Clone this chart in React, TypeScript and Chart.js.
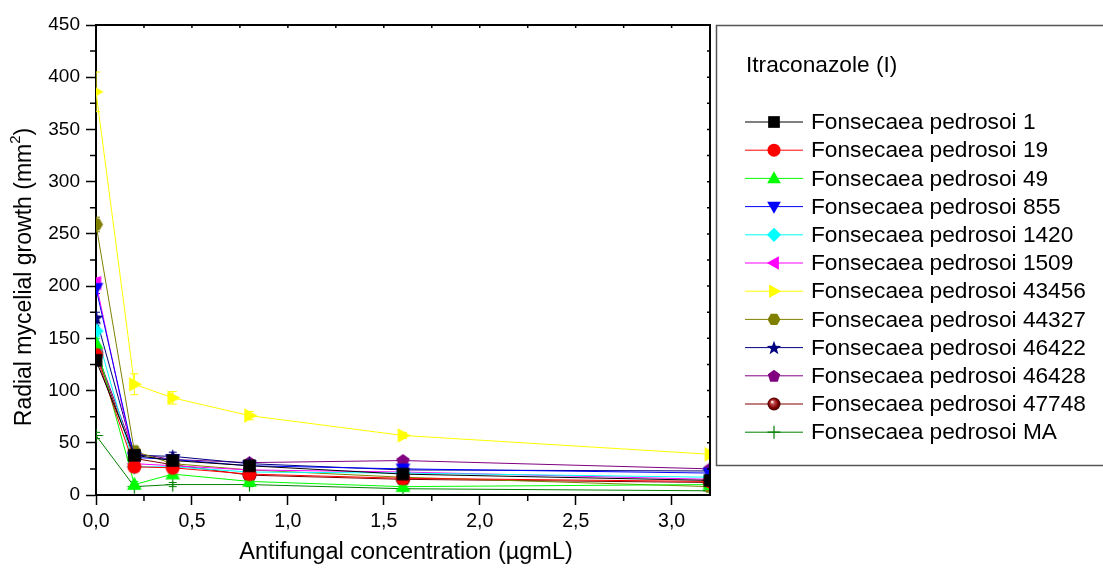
import { useEffect, useRef } from 'react';
import { Chart, registerables } from 'chart.js';

Chart.register(...registerables);

// Antifungal concentrations (µg/mL)
const concentrations = [0, 0.2, 0.4, 0.8, 1.6, 3.2];

// Radial mycelial growth (mm²) per strain
const growthFp1 = [129, 38, 33, 28, 20, 14];
const growthFp19 = [134, 27, 26, 20, 16, 13];
const growthFp49 = [145, 10, 20, 13, 8, 10];
const growthFp855 = [198, 36, 34, 28, 25, 21];
const growthFp1420 = [157, 27, 27, 22, 21, 17];
const growthFp1509 = [203, 30, 28, 24, 22, 15];
const growthFp43456 = [386, 106, 93, 76, 57, 39];
const growthFp44327 = [259, 42, 30, 24, 17, 8];
const growthFp46422 = [170, 38, 37, 30, 24, 23];
const growthFp46428 = [138, 40, 34, 31, 33, 25];
const growthFp47748 = [136, 35, 29, 19, 15, 12];
const growthFpMA = [57, 8, 10, 10, 6, 4];

// Standard deviations
const errFp1 = [4, 3, 3, 2, 2, 2];
const errFp19 = [4, 3, 2, 2, 2, 2];
const errFp49 = [5, 3, 3, 2, 2, 2];
const errFp855 = [5, 3, 3, 2, 2, 2];
const errFp1420 = [5, 3, 2, 2, 2, 2];
const errFp1509 = [5, 3, 3, 2, 2, 2];
const errFp43456 = [19, 10, 6, 4, 3, 3];
const errFp44327 = [7, 4, 3, 2, 2, 2];
const errFp46422 = [5, 3, 4, 2, 2, 2];
const errFp46428 = [4, 3, 3, 3, 2, 2];
const errFp47748 = [4, 3, 3, 2, 2, 2];
const errFpMA = [3, 2, 2, 2, 2, 1];

const strainNames = [
  'Fonsecaea pedrosoi 1',
  'Fonsecaea pedrosoi 19',
  'Fonsecaea pedrosoi 49',
  'Fonsecaea pedrosoi 855',
  'Fonsecaea pedrosoi 1420',
  'Fonsecaea pedrosoi 1509',
  'Fonsecaea pedrosoi 43456',
  'Fonsecaea pedrosoi 44327',
  'Fonsecaea pedrosoi 46422',
  'Fonsecaea pedrosoi 46428',
  'Fonsecaea pedrosoi 47748',
  'Fonsecaea pedrosoi MA',
];
const strainColors = [
  '#000000', '#FF0000', '#00FF00', '#0000FF', '#00FFFF', '#FF00FF',
  '#FFFF00', '#808000', '#000080', '#800080', '#800000', '#008000',
];
const strainMarkers = [
  'square', 'circle', 'triangleUp', 'triangleDown', 'diamond', 'triangleLeft',
  'triangleRight', 'hexagon', 'star', 'pentagon', 'sphere', 'cross',
];
const growthSeries = [
  growthFp1, growthFp19, growthFp49, growthFp855, growthFp1420, growthFp1509,
  growthFp43456, growthFp44327, growthFp46422, growthFp46428, growthFp47748, growthFpMA,
];
const errorSeries = [
  errFp1, errFp19, errFp49, errFp855, errFp1420, errFp1509,
  errFp43456, errFp44327, errFp46422, errFp46428, errFp47748, errFpMA,
];

const legendTitle = 'Itraconazole (I)';
const xTitle = 'Antifungal concentration (µgmL)';
const yTitleMain = 'Radial mycelial growth (mm';
const yTitleSup = '2';
const yTitleEnd = ')';

const FONT = '"Liberation Sans", Arial, sans-serif';

function polygon(ctx: CanvasRenderingContext2D, pts: number[][]) {
  ctx.beginPath();
  pts.forEach(([px, py], i) => (i === 0 ? ctx.moveTo(px, py) : ctx.lineTo(px, py)));
  ctx.closePath();
  ctx.fill();
}

function drawMarker(ctx: CanvasRenderingContext2D, shape: string, color: string, x: number, y: number, r: number) {
  ctx.save();
  ctx.fillStyle = color;
  ctx.strokeStyle = color;
  switch (shape) {
    case 'square': {
      const s = r * 0.9;
      ctx.fillRect(x - s, y - s, 2 * s, 2 * s);
      break;
    }
    case 'circle':
      ctx.beginPath();
      ctx.arc(x, y, r, 0, Math.PI * 2);
      ctx.fill();
      break;
    case 'triangleUp':
      polygon(ctx, [[x, y - r * 1.1], [x + r * 1.05, y + r * 0.75], [x - r * 1.05, y + r * 0.75]]);
      break;
    case 'triangleDown':
      polygon(ctx, [[x, y + r * 1.1], [x + r * 1.05, y - r * 0.75], [x - r * 1.05, y - r * 0.75]]);
      break;
    case 'triangleLeft':
      polygon(ctx, [[x - r * 1.1, y], [x + r * 0.75, y - r * 1.05], [x + r * 0.75, y + r * 1.05]]);
      break;
    case 'triangleRight':
      polygon(ctx, [[x + r * 1.1, y], [x - r * 0.75, y - r * 1.05], [x - r * 0.75, y + r * 1.05]]);
      break;
    case 'diamond':
      polygon(ctx, [[x, y - r * 1.1], [x + r * 1.1, y], [x, y + r * 1.1], [x - r * 1.1, y]]);
      break;
    case 'hexagon': {
      const pts: number[][] = [];
      for (let i = 0; i < 6; i++) {
        const a = (Math.PI / 3) * i;
        pts.push([x + r * Math.cos(a), y + r * Math.sin(a)]);
      }
      polygon(ctx, pts);
      break;
    }
    case 'pentagon': {
      const pts: number[][] = [];
      for (let i = 0; i < 5; i++) {
        const a = -Math.PI / 2 + ((Math.PI * 2) / 5) * i;
        pts.push([x + r * Math.cos(a), y + r * 1.02 * Math.sin(a) + r * 0.08]);
      }
      polygon(ctx, pts);
      break;
    }
    case 'star': {
      const pts: number[][] = [];
      for (let i = 0; i < 10; i++) {
        const a = -Math.PI / 2 + (Math.PI / 5) * i;
        const rr = i % 2 === 0 ? r * 1.15 : r * 0.47;
        pts.push([x + rr * Math.cos(a), y + r * 0.1 + rr * Math.sin(a)]);
      }
      polygon(ctx, pts);
      break;
    }
    case 'sphere': {
      const g = ctx.createRadialGradient(x - r * 0.3, y - r * 0.35, r * 0.05, x, y, r);
      g.addColorStop(0, '#ffffff');
      g.addColorStop(0.25, '#c05050');
      g.addColorStop(0.7, color);
      g.addColorStop(1, '#400000');
      ctx.fillStyle = g;
      ctx.beginPath();
      ctx.arc(x, y, r, 0, Math.PI * 2);
      ctx.fill();
      break;
    }
    case 'cross':
      ctx.lineWidth = 1.2;
      ctx.beginPath();
      ctx.moveTo(x - r, y);
      ctx.lineTo(x + r, y);
      ctx.moveTo(x, y - r);
      ctx.lineTo(x, y + r);
      ctx.stroke();
      break;
  }
  ctx.restore();
}

function markerImage(shape: string, color: string, r: number): HTMLCanvasElement {
  const size = Math.ceil(r * 2.6) + 2;
  const c = document.createElement('canvas');
  c.width = size;
  c.height = size;
  const ctx = c.getContext('2d')!;
  drawMarker(ctx, shape, color, size / 2, size / 2, r);
  return c;
}

const errorBarsPlugin = {
  id: 'errorBars',
  beforeDatasetsDraw(chart: any) {
    const { ctx, chartArea, scales } = chart;
    ctx.save();
    ctx.beginPath();
    ctx.rect(chartArea.left, chartArea.top, chartArea.right - chartArea.left, chartArea.bottom - chartArea.top);
    ctx.clip();
    chart.data.datasets.forEach((ds: any, di: number) => {
      const errs = errorSeries[di];
      ctx.strokeStyle = ds.borderColor;
      ctx.lineWidth = 1;
      ds.data.forEach((p: any, i: number) => {
        const px = scales.x.getPixelForValue(p.x);
        const y1 = scales.y.getPixelForValue(p.y - errs[i]);
        const y2 = scales.y.getPixelForValue(p.y + errs[i]);
        ctx.beginPath();
        ctx.moveTo(px, y1);
        ctx.lineTo(px, y2);
        ctx.moveTo(px - 4, y1);
        ctx.lineTo(px + 4, y1);
        ctx.moveTo(px - 4, y2);
        ctx.lineTo(px + 4, y2);
        ctx.stroke();
      });
    });
    ctx.restore();
  },
};

const frameAndLegendPlugin = {
  id: 'frameAndLegend',
  afterDraw(chart: any) {
    const { ctx, chartArea, scales } = chart;
    const { left, right, top, bottom } = chartArea;
    ctx.save();
    ctx.strokeStyle = '#000';
    ctx.lineWidth = 2;
    ctx.beginPath();
    ctx.moveTo(left, top);
    ctx.lineTo(right, top);
    ctx.lineTo(right, bottom);
    ctx.stroke();

    // minor ticks and inward ticks on the frame
    ctx.lineWidth = 1.5;
    ctx.beginPath();
    for (let v = 0.25; v <= 3.2; v += 0.5) {
      const px = scales.x.getPixelForValue(v);
      ctx.moveTo(px, bottom);
      ctx.lineTo(px, bottom + 6);
    }
    for (let v = 0.25; v < 3.2; v += 0.25) {
      const px = scales.x.getPixelForValue(v);
      ctx.moveTo(px, top);
      ctx.lineTo(px, top + 3);
    }
    for (let v = 25; v < 450; v += 50) {
      const py = scales.y.getPixelForValue(v);
      ctx.moveTo(left, py);
      ctx.lineTo(left - 6, py);
    }
    for (let v = 25; v < 450; v += 25) {
      const py = scales.y.getPixelForValue(v);
      ctx.moveTo(right, py);
      ctx.lineTo(right - 3, py);
    }
    ctx.stroke();

    // axis titles
    ctx.fillStyle = '#000';
    ctx.font = `23.5px ${FONT}`;
    ctx.textAlign = 'center';
    ctx.textBaseline = 'middle';
    ctx.fillText(xTitle, 406, 553);

    ctx.save();
    ctx.translate(25, 277);
    ctx.rotate(-Math.PI / 2);
    ctx.font = `23px ${FONT}`;
    const w1 = ctx.measureText(yTitleMain).width;
    ctx.font = `15px ${FONT}`;
    const w2 = ctx.measureText(yTitleSup).width;
    ctx.font = `23px ${FONT}`;
    const w3 = ctx.measureText(yTitleEnd).width;
    let sx = -(w1 + w2 + w3) / 2;
    ctx.textAlign = 'left';
    ctx.fillText(yTitleMain, sx, 0);
    sx += w1;
    ctx.font = `15px ${FONT}`;
    ctx.fillText(yTitleSup, sx, -9);
    sx += w2;
    ctx.font = `23px ${FONT}`;
    ctx.fillText(yTitleEnd, sx, 0);
    ctx.restore();

    // legend box
    ctx.strokeStyle = '#555';
    ctx.lineWidth = 1.5;
    ctx.strokeRect(716.5, 25.5, 400, 440);
    ctx.font = `22.7px ${FONT}`;
    ctx.textAlign = 'left';
    ctx.textBaseline = 'middle';
    ctx.fillStyle = '#000';
    ctx.fillText(legendTitle, 746, 66);
    strainNames.forEach((name, i) => {
      const ly = 122 + i * 28.2;
      ctx.strokeStyle = strainColors[i];
      ctx.lineWidth = 1;
      ctx.beginPath();
      ctx.moveTo(745, ly);
      ctx.lineTo(803, ly);
      ctx.stroke();
      drawMarker(ctx, strainMarkers[i], strainColors[i], 774, ly, 6.5);
      ctx.fillStyle = '#000';
      ctx.fillText(name, 811, ly + 1);
    });
    ctx.restore();
  },
};

export default function App() {
  const canvasRef = useRef<HTMLCanvasElement | null>(null);

  useEffect(() => {
    document.body.style.margin = '0';
    const canvas = canvasRef.current;
    if (!canvas) return;

    const datasets = strainNames.map((name, i) => ({
      label: name,
      data: concentrations.map((c, j) => ({ x: c, y: growthSeries[i][j] })),
      borderColor: strainColors[i],
      backgroundColor: strainColors[i],
      borderWidth: 1,
      pointStyle: markerImage(strainMarkers[i], strainColors[i], 7) as any,
      pointRadius: 7,
      tension: 0,
    }));

    const chart = new Chart(canvas, {
      type: 'line',
      data: { datasets },
      options: {
        animation: false,
        responsive: false,
        maintainAspectRatio: false,
        layout: { padding: { top: 25, left: 0, right: 393, bottom: 0 } },
        plugins: { legend: { display: false }, tooltip: { enabled: false } },
        scales: {
          x: {
            type: 'linear',
            min: 0,
            max: 3.2,
            afterFit: (s: any) => { s.height = 75; },
            border: { display: true, color: '#000', width: 2 },
            grid: { drawOnChartArea: false, drawTicks: true, tickLength: 10, tickColor: '#000', tickWidth: 1.5 },
            ticks: {
              stepSize: 0.5,
              includeBounds: false,
              color: '#000',
              padding: 5,
              maxRotation: 0,
              font: { family: FONT, size: 19.5 },
              callback: (v: any) => Number(v).toFixed(1).replace('.', ','),
            },
          },
          y: {
            type: 'linear',
            min: 0,
            max: 450,
            afterFit: (s: any) => { s.width = 96; },
            border: { display: true, color: '#000', width: 2 },
            grid: { drawOnChartArea: false, drawTicks: true, tickLength: 10, tickColor: '#000', tickWidth: 1.5 },
            ticks: {
              stepSize: 50,
              color: '#000',
              padding: 6,
              font: { family: FONT, size: 19 },
            },
          },
        },
      },
      plugins: [errorBarsPlugin, frameAndLegendPlugin],
    });

    return () => chart.destroy();
  }, []);

  return <canvas ref={canvasRef} width={1103} height={570} style={{ display: 'block' }} />;
}
